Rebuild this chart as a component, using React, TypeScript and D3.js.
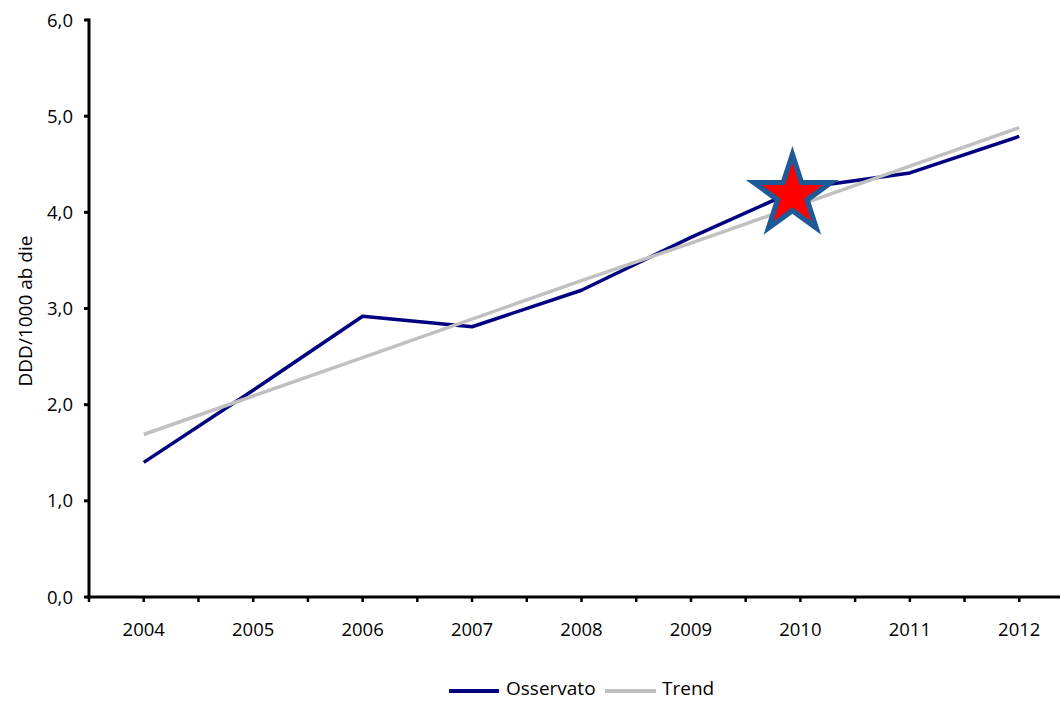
import React from "react";
import * as d3 from "d3";

const years = ["2004", "2005", "2006", "2007", "2008", "2009", "2010", "2011", "2012"];
const osservato = [1.40, 2.15, 2.92, 2.81, 3.19, 3.74, 4.25, 4.41, 4.79];
const trend = [1.69, 2.09, 2.49, 2.89, 3.29, 3.68, 4.08, 4.48, 4.88];
const yTicks = [0, 1, 2, 3, 4, 5, 6];
const yTitle = "DDD/1000 ab die";
const legendItems = [
  { label: "Osservato", color: "#000080" },
  { label: "Trend", color: "#C0C0C0" },
];
const starYear = "2010";
const starValue = 4.18;

const W = 1060;
const H = 701;
const FONT = "'Open Sans', 'Noto Sans', sans-serif";

export default function App() {
  const x = d3.scalePoint<string>().domain(years).range([89, 1074]).padding(0.5);
  const y = d3.scaleLinear().domain([0, 6]).range([597, 20]);
  const step = x.step();

  const line = d3
    .line<number>()
    .x((_, i) => x(years[i]) as number)
    .y((d) => y(d));

  const xTickPos: number[] = [];
  for (let k = 0; k <= 2 * years.length; k++) xTickPos.push(89 + (k * step) / 2);

  // star
  const sx = (x(starYear) as number) - 8;
  const sy = y(starValue);
  const R = 40.6;
  const r = R * 0.382;
  const pts: [number, number][] = [];
  for (let i = 0; i < 10; i++) {
    const a = -Math.PI / 2 + (i * Math.PI) / 5;
    const rad = i % 2 === 0 ? R : r;
    pts.push([sx + rad * Math.cos(a), sy + rad * Math.sin(a)]);
  }
  const starPath = "M" + pts.map((p) => p.join(",")).join("L") + "Z";

  return (
    <svg
      width={W}
      height={H}
      style={{ position: "absolute", left: 0, top: 0, background: "#fff" }}
      fontFamily={FONT}
    >
      <rect x={0} y={0} width={W} height={H} fill="#fff" />
      {/* Y axis */}
      <line x1={89} x2={89} y1={y(6) - 1.5} y2={y(0) + 1.5} stroke="#000" strokeWidth={3} />
      {yTicks.map((t) => (
        <g key={t}>
          <line x1={84} x2={89} y1={y(t)} y2={y(t)} stroke="#000" strokeWidth={3} />
          <text x={73} y={y(t)} dy="0.36em" textAnchor="end" fontSize={18.5} fill="#000">
            {t.toFixed(1).replace(".", ",")}
          </text>
        </g>
      ))}
      {/* X axis */}
      <line x1={87.5} x2={1074} y1={y(0)} y2={y(0)} stroke="#000" strokeWidth={3} />
      {xTickPos.map((p, i) => (
        <line key={i} x1={p} x2={p} y1={y(0)} y2={y(0) + 5} stroke="#000" strokeWidth={2.5} />
      ))}
      {years.map((yr) => (
        <text key={yr} x={x(yr) as number} y={636} textAnchor="middle" fontSize={18.5} fill="#000">
          {yr}
        </text>
      ))}
      {/* Y title */}
      <text
        transform={`translate(32,${311}) rotate(-90)`}
        textAnchor="middle"
        fontSize={19}
        fill="#000"
      >
        {yTitle}
      </text>
      {/* Series */}
      <path d={line(osservato) as string} fill="none" stroke="#000080" strokeWidth={3.5} strokeLinejoin="round" />
      <path d={line(trend) as string} fill="none" stroke="#C0C0C0" strokeWidth={3.5} />
      {/* Star */}
      <path d={starPath} fill="#FF0000" stroke="#1F5A98" strokeWidth={5.2} strokeLinejoin="miter" />
      {/* Legend */}
      <line x1={449} x2={499} y1={691} y2={691} stroke={legendItems[0].color} strokeWidth={4} />
      <text x={506} y={695} fontSize={19} fill="#000">{legendItems[0].label}</text>
      <line x1={605} x2={656} y1={691} y2={691} stroke={legendItems[1].color} strokeWidth={4} />
      <text x={662} y={695} fontSize={19} fill="#000">{legendItems[1].label}</text>
    </svg>
  );
}
